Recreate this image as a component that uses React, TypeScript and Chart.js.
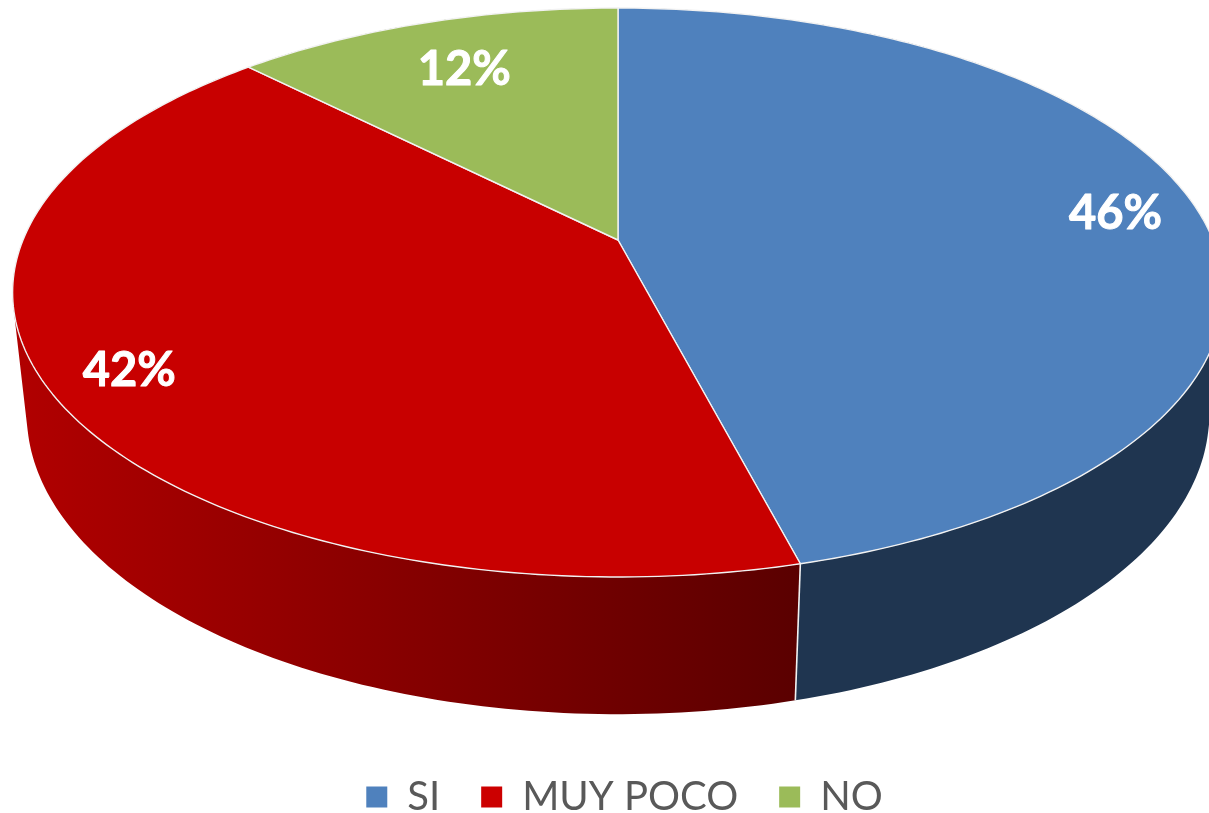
import React, { useEffect, useRef } from "react";
import { Chart, registerables } from "chart.js";

Chart.register(...registerables);

const categories = ["SI", "MUY POCO", "NO"];
const shares = [45.95, 41.65, 12.4];
const topColors = ["#4F81BD", "#C80000", "#9BBB59"];
const legendColors = ["#4F81BD", "#CC0000", "#9BBB59"];
const labelRadii = [0.86, 0.87, 0.77];

// Projection of the pie's unit circle onto the page (a perspective view)
const APEX_X = 618;
const APEX_Y = 240;
const SPAN_X = 595;
const SPAN_Y = 274.8;
const TILT = 0.1845;
const WALL_DROP = 122.9;
const WALL_SHRINK = 0.0232;

function project(angle: number, r: number, lower: boolean) {
  const u = r * Math.cos(angle);
  const v = -r * Math.sin(angle);
  const w = 1 + TILT * v + (lower ? WALL_SHRINK : 0);
  return {
    x: APEX_X + (SPAN_X * u) / w,
    y: APEX_Y + (-SPAN_Y * v + (lower ? WALL_DROP : 0)) / w,
  };
}

function arcPoints(start: number, end: number, lower: boolean) {
  const steps = Math.max(8, Math.ceil(Math.abs(end - start) * 60));
  const pts = [];
  for (let i = 0; i <= steps; i++) {
    pts.push(project(start + ((end - start) * i) / steps, 1, lower));
  }
  return pts;
}

const pie3d = {
  id: "pie3d",
  beforeDatasetDraw(chart: any) {
    const ctx = chart.ctx;
    const arcs = chart.getDatasetMeta(0).data;
    ctx.save();

    arcs.forEach((arc: any, i: number) => {
      const top = arcPoints(arc.startAngle, arc.endAngle, false);
      const bottom = arcPoints(arc.startAngle, arc.endAngle, true);
      let style: any = i === 0 ? "#1F3550" : "#5D7035";
      if (i === 1) {
        const g = ctx.createLinearGradient(25, 0, 800, 0);
        g.addColorStop(0, "#B00000");
        g.addColorStop(1, "#5A0000");
        style = g;
      }
      ctx.fillStyle = style;
      ctx.beginPath();
      for (let k = 0; k < top.length - 1; k++) {
        // every strip of the wall gets the same winding so the one path fills without seams
        let quad = [top[k], top[k + 1], bottom[k + 1], bottom[k]];
        let area = 0;
        quad.forEach((p, n) => {
          const q = quad[(n + 1) % 4];
          area += p.x * q.y - q.x * p.y;
        });
        if (area < 0) quad = quad.reverse();
        quad.forEach((p, n) => (n ? ctx.lineTo(p.x, p.y) : ctx.moveTo(p.x, p.y)));
        ctx.closePath();
      }
      ctx.fill("nonzero");
    });

    arcs.forEach((arc: any) => {
      const a = project(arc.startAngle, 1, false);
      const b = project(arc.startAngle, 1, true);
      if (a.y > APEX_Y) {
        ctx.beginPath();
        ctx.moveTo(a.x, a.y);
        ctx.lineTo(b.x, b.y);
        ctx.strokeStyle = "#F2F2F2";
        ctx.lineWidth = 1.6;
        ctx.stroke();
      }
    });

    arcs.forEach((arc: any, i: number) => {
      const rim = arcPoints(arc.startAngle, arc.endAngle, false);
      ctx.beginPath();
      ctx.moveTo(APEX_X, APEX_Y);
      rim.forEach((p) => ctx.lineTo(p.x, p.y));
      ctx.closePath();
      ctx.fillStyle = topColors[i];
      ctx.fill();
      ctx.strokeStyle = "#F2F2F2";
      ctx.lineWidth = 1.4;
      ctx.lineJoin = "round";
      ctx.stroke();
    });

    ctx.fillStyle = "#FFFFFF";
    ctx.strokeStyle = "#FFFFFF";
    ctx.lineWidth = 1;
    ctx.font = "bold 47px Lato";
    ctx.textAlign = "center";
    ctx.textBaseline = "middle";
    arcs.forEach((arc: any, i: number) => {
      const p = project((arc.startAngle + arc.endAngle) / 2, labelRadii[i], false);
      const text = `${Math.round(shares[i])}%`;
      ctx.fillText(text, p.x, p.y + 3);
      ctx.strokeText(text, p.x, p.y + 3);
    });

    ctx.restore();
    return false;
  },
};

export default function App() {
  const ref = useRef<HTMLCanvasElement>(null);
  useEffect(() => {
    const chart = new Chart(ref.current as HTMLCanvasElement, {
      type: "pie",
      data: {
        labels: categories,
        datasets: [{ data: shares, backgroundColor: legendColors, borderWidth: 0 }],
      },
      options: {
        responsive: false,
        animation: false,
        layout: { padding: { left: 40, bottom: -14 } },
        plugins: {
          tooltip: { enabled: false },
          legend: {
            position: "bottom",
            labels: {
              color: "#595959",
              font: { family: "Lato", size: 40 },
              boxWidth: 21,
              boxHeight: 21,
              padding: 41,
            },
          },
        },
      },
      plugins: [pie3d],
    } as any);
    return () => chart.destroy();
  }, []);
  return (
    <canvas
      ref={ref}
      width={1209}
      height={813}
      style={{ position: "absolute", left: 0, top: 0, width: 1209, height: 813 }}
    />
  );
}
